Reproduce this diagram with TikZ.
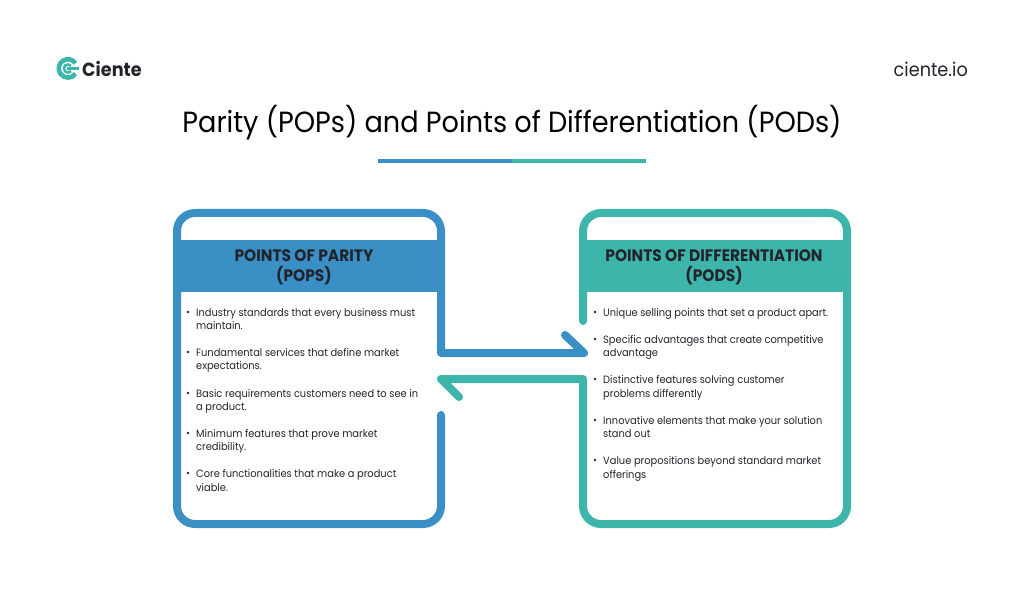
\documentclass[tikz,border=0pt]{standalone}
\usepackage{fontspec}
\setmainfont{Poppins}[FakeStretch=0.93]
\definecolor{popblue}{HTML}{3A8FC5}
\definecolor{podteal}{HTML}{3EB5AB}
\definecolor{inkdark}{HTML}{23232B}
\tikzset{
  frame/.style={line width=8pt, line cap=round, line join=round, rounded corners=18pt},
  head/.style={font=\fontsize{16.6}{20}\selectfont\bfseries, text=inkdark, align=center},
  item/.style={font=\fontsize{10.6}{13.5}\selectfont, text=inkdark, align=left, anchor=north west, inner sep=0pt},
  dot/.style={circle, fill=inkdark, inner sep=0.9pt}
}
\begin{document}
\begin{tikzpicture}[x=1pt, y=-1pt]
\useasboundingbox (0,0) rectangle (1024,601);

% logo and address
\draw[line width=4.6pt, color=podteal] (75.5,63.2) arc (-35:-325:9.2);
\draw[line width=2.6pt, color=podteal] (71,65.9) arc (-40:-320:4);
\fill[color=podteal] (67,67.4) rectangle (79,69.8);
\node[anchor=west, inner sep=0pt, text=inkdark, font=\fontsize{19}{22}\selectfont\bfseries] (brand) at (82,69) {Ciente};
\node[anchor=east, inner sep=0pt, text=inkdark, font=\fontsize{19}{22}\selectfont] (site) at (968,69) {ciente.io};

% title
\node[text=black, inner sep=0pt, font=\fontsize{29.2}{34}\selectfont] (title) at (512,123) {Parity (POPs) and Points of Differentiation (PODs)};
\fill[color=popblue] (378,159) rectangle (512,163);
\fill[color=podteal] (512,159) rectangle (646,163);

% header bands
\fill[color=popblue] (173,240) rectangle (445,292);
\fill[color=podteal] (579,240) rectangle (851,292);
\node[head] (pophead) at (304,267.5) {POINTS OF PARITY\\(POPS)};
\node[head] (podhead) at (714,267.5) {POINTS OF DIFFERENTIATION\\(PODS)};

% frames, each one ends in its arrow
\draw[frame, color=popblue] (441,415) -- (441,524) -- (177,524) -- (177,213) -- (441,213)
  [rounded corners=0pt] -- (441,353) -- (584,353) -- (565,335);
\draw[frame, color=podteal] (583,321) -- (583,213) -- (847,213) -- (847,524) -- (583,524)
  [rounded corners=0pt] -- (583,379) -- (441,379) -- (459,397);

% left list
\node[dot] (p1) at (188,312) {};
\node[item] (ptext1) at (196,308) {Industry standards that every business must\\maintain.};
\node[dot] (p2) at (188,352) {};
\node[item] (ptext2) at (196,348) {Fundamental services that define market\\expectations.};
\node[dot] (p3) at (188,393) {};
\node[item] (ptext3) at (196,389) {Basic requirements customers need to see in\\a product.};
\node[dot] (p4) at (188,433) {};
\node[item] (ptext4) at (196,429) {Minimum features that prove market\\credibility.};
\node[dot] (p5) at (188,473) {};
\node[item] (ptext5) at (196,469.5) {Core functionalities that make a product\\viable.};

% right list
\node[dot] (d1) at (595,312) {};
\node[item] (dtext1) at (603,308) {Unique selling points that set a product apart.};
\node[dot] (d2) at (595,339) {};
\node[item] (dtext2) at (603,335) {Specific advantages that create competitive\\advantage};
\node[dot] (d3) at (595,379) {};
\node[item] (dtext3) at (603,375.5) {Distinctive features solving customer\\problems differently};
\node[dot] (d4) at (595,420) {};
\node[item] (dtext4) at (603,416) {Innovative elements that make your solution\\stand out};
\node[dot] (d5) at (595,460) {};
\node[item] (dtext5) at (603,456.5) {Value propositions beyond standard market\\offerings};
\end{tikzpicture}
\end{document}
